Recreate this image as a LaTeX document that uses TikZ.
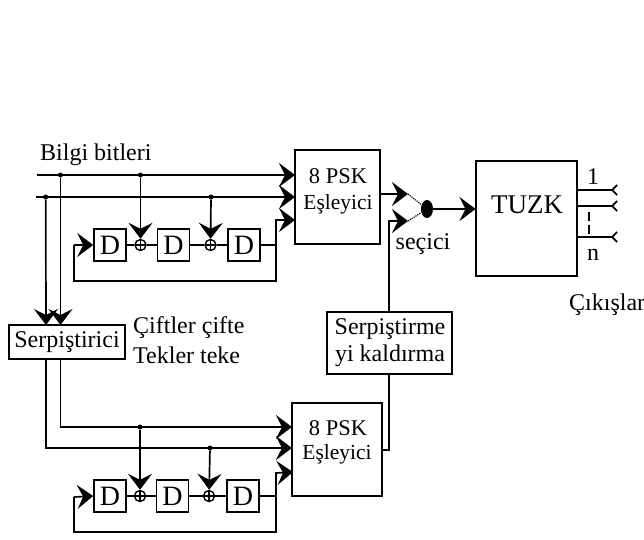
\documentclass[tikz,border=0pt]{standalone}
\usepackage{fontspec}
\setmainfont{Liberation Serif}
\usetikzlibrary{arrows.meta,shapes.geometric}
\tikzset{
  wire/.style={line width=1.7pt},
  flow/.style={wire,-{Stealth[length=16pt,width=24pt,inset=6pt]}},
  bx/.style={draw,line width=1.6pt,inner sep=0pt},
  dbox/.style={bx,minimum width=32pt,minimum height=32pt,font=\fontsize{28}{30}\selectfont},
  lbl/.style={inner sep=0pt,font=\fontsize{24}{26}\selectfont},
  psk/.style={inner sep=0pt,font=\fontsize{22.5}{25}\selectfont},
  small/.style={inner sep=0pt,font=\fontsize{21.5}{23}\selectfont},
  xorg/.style={circle,draw,line width=1.4pt,inner sep=0pt,minimum size=11pt,path picture={
    \draw[line width=1.2pt] (path picture bounding box.north) -- (path picture bounding box.south)
      (path picture bounding box.west) -- (path picture bounding box.east);}},
  jdot/.style={circle,fill=black,inner sep=0pt,minimum size=5pt},
  outtip/.style={line width=1.7pt,-{Straight Barb[length=5pt,width=10pt,reversed]}}
}
\begin{document}
\begin{tikzpicture}[x=1pt,y=-1pt]
\useasboundingbox (0,0) rectangle (644,539);
% boxes
\node[bx,minimum width=85pt,minimum height=94pt] (m1) at (337.5,197) {};
\node[bx,minimum width=90pt,minimum height=93pt] (m2) at (337,449.5) {};
\node[bx,minimum width=101pt,minimum height=115pt] (tuzk) at (526.5,218.5) {};
\node[bx,minimum width=116pt,minimum height=34pt,lbl] (serp) at (67,342) {Serpiştirici};
\node[bx,minimum width=125pt,minimum height=62pt] (ks) at (389.5,343) {};
% box text
\node[psk] (t1) at (338,176) {8 PSK};
\node[small] (t2) at (338,204) {Eşleyici};
\node[psk] (t3) at (338,428) {8 PSK};
\node[small] (t4) at (337,454) {Eşleyici};
\node[inner sep=0pt,font=\fontsize{27}{29}\selectfont] (t5) at (527,205) {TUZK};
\node[lbl] (t6) at (390,329) {Serpiştirme};
\node[lbl] (t7) at (390,356) {yi kaldırma};
% labels
\node[lbl,anchor=west] (l1) at (40,155) {Bilgi bitleri};
\node[lbl,anchor=west] (l2) at (133,328) {Çiftler çifte};
\node[lbl,anchor=west] (l3) at (133,355) {Tekler teke};
\node[lbl] (l4) at (423,244) {seçici};
\node[lbl,anchor=west] (l5) at (569,305) {Çıkışlar};
\node[lbl] (l6) at (593,177) {1};
\node[lbl] (l7) at (593,255) {n};
% upper shift register
\node[dbox] (d1) at (110,245) {D};
\node[dbox] (d2) at (173.5,245) {D};
\node[dbox] (d3) at (244,245) {D};
\node[xorg] (x1) at (140.5,245) {};
\node[xorg] (x2) at (210.5,245) {};
% lower shift register
\node[dbox] (d4) at (110,496) {D};
\node[dbox] (d5) at (172.5,496) {D};
\node[dbox] (d6) at (243,496) {D};
\node[xorg] (x3) at (140,496) {};
\node[xorg] (x4) at (209,496) {};
% coordinates
\coordinate (a1) at (37,175);   \coordinate (a2) at (36,197);
\coordinate (b1) at (295,175);  \coordinate (b2) at (295,197);  \coordinate (b3) at (295,220);
\node[jdot] (j1) at (60.5,175) {};
\node[jdot] (j2) at (45.7,197) {};
\node[jdot] (j3) at (140.5,175) {};
\node[jdot] (j4) at (211,197) {};
\coordinate (s1) at (60.5,325);  \coordinate (s2) at (46,325);
\coordinate (s3) at (60.5,359);  \coordinate (s4) at (46,359);
\coordinate (f1) at (276,245);   \coordinate (f2) at (276,281);  \coordinate (f3) at (74,281);
\coordinate (f4) at (74,245);    \coordinate (f5) at (276,220);
\coordinate (c1) at (60.5,427);  \coordinate (c2) at (46,448);
\coordinate (e1) at (292,427);   \coordinate (e2) at (292,448);  \coordinate (e3) at (293,472);
\node[jdot] (j5) at (140,427) {};
\node[jdot] (j6) at (210,448) {};
\coordinate (g1) at (276,496);   \coordinate (g2) at (276,532);  \coordinate (g3) at (74,532);
\coordinate (g4) at (74,497);    \coordinate (g5) at (276,473);
% input wires
\draw[flow] (a1) -- (b1);
\draw[flow] (a2) -- (b2);
\draw[flow] (j3) -- (x1);
\draw[flow] (j4) -- (x2);
\draw[flow] (j1) -- (s1);
\draw[flow] (j2) -- (s2);
% upper chain
\draw[wire] (d1) -- (x1); \draw[wire] (x1) -- (d2); \draw[wire] (d2) -- (x2); \draw[wire] (x2) -- (d3);
\draw[wire] (d3) -- (f1) -- (f2) -- (f3) -- (f4);
\draw[flow] (f4) -- (d1.west);
\draw[flow] (f1) -- (f5) -- (b3);
% lower wires
\draw[flow] (s3) -- (c1) -- (e1);
\draw[flow] (s4) -- (c2) -- (e2);
\draw[flow] (j5) -- (x3);
\draw[flow] (j6) -- (x4);
% lower chain
\draw[wire] (d4) -- (x3); \draw[wire] (x3) -- (d5); \draw[wire] (d5) -- (x4); \draw[wire] (x4) -- (d6);
\draw[wire] (d6) -- (g1) -- (g2) -- (g3) -- (g4);
\draw[flow] (g4) -- (d4.west);
\draw[flow] (g1) -- (g5) -- (e3);
% selector
\node[ellipse,fill=black,inner sep=0pt,minimum width=12pt,minimum height=18pt] (sel) at (427,209) {};
\coordinate (h1) at (380,194);  \coordinate (h2) at (408,194);
\coordinate (h3) at (389,450);  \coordinate (h4) at (382,450);
\coordinate (h5) at (389,374);  \coordinate (h6) at (389,312);
\coordinate (h7) at (389,221);  \coordinate (h8) at (408,221);
\coordinate (h9) at (475.5,209);
\draw[flow] (h1) -- (h2);
\draw[wire] (h4) -- (h3) -- (h5);
\draw[flow] (h6) -- (h7) -- (h8);
\draw[line width=1.2pt,densely dotted] (h2) -- (sel);
\draw[line width=1.2pt,densely dotted] (h8) -- (sel);
\draw[flow] (sel) -- (h9);
% outputs
\coordinate (o1) at (577,190); \coordinate (p1) at (618,190);
\coordinate (o2) at (577,206); \coordinate (p2) at (618,206);
\coordinate (o3) at (577,237); \coordinate (p3) at (618,237);
\coordinate (q1) at (589,212); \coordinate (q2) at (589,234);
\draw[outtip] (o1) -- (p1);
\draw[outtip] (o2) -- (p2);
\draw[outtip] (o3) -- (p3);
\draw[line width=1.3pt,dash pattern=on 9pt off 4pt] (q1) -- (q2);
\end{tikzpicture}
\end{document}
